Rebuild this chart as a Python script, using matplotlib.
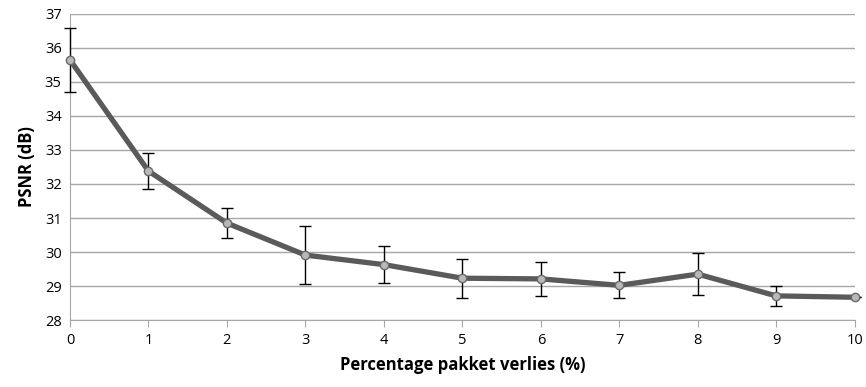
import matplotlib.pyplot as plt

# Data
verlies = [0, 1, 2, 3, 4, 5, 6, 7, 8, 9, 10]
psnr = [35.65, 32.38, 30.85, 29.91, 29.63, 29.23, 29.21, 29.02, 29.35, 28.71, 28.67]
fout = [0.95, 0.52, 0.45, 0.86, 0.55, 0.57, 0.49, 0.38, 0.62, 0.29, 0.0]

plt.rcParams['font.family'] = ['Open Sans', 'DejaVu Sans']

fig = plt.figure(figsize=(8.66, 3.87), dpi=100)
ax = fig.add_axes([0.0808, 0.173, 0.9062, 0.791])

# foutbalken
eb = ax.errorbar(verlies, psnr, yerr=fout, fmt='none', ecolor='black',
                 elinewidth=1.0, capsize=4, capthick=1.0, zorder=2.7)
for art in eb.lines[1] + eb.lines[2]:
    art.set_clip_on(False)
# lijn met markers
ax.plot(verlies, psnr, color='#5a5a5a', linewidth=3.8, zorder=3,
        marker='o', markersize=6, markerfacecolor='#b8b8b8',
        markeredgecolor='#6a6a6a', markeredgewidth=1.0, clip_on=False)

ax.set_xlim(0, 10)
ax.set_ylim(28, 37)
ax.set_xticks(range(0, 11))
ax.set_yticks(range(28, 38))

ax.grid(axis='y', color='#a6a6a6', linewidth=1.0)
ax.set_axisbelow(True)
for s in ['top', 'right']:
    ax.spines[s].set_visible(False)
ax.spines['left'].set_color('#a6a6a6')
ax.spines['bottom'].set_color('#a6a6a6')
ax.tick_params(axis='y', length=0, labelsize=10.5, pad=6)
ax.tick_params(axis='x', length=5, color='#a6a6a6', labelsize=10.5, pad=4)

ax.set_xlabel('Percentage pakket verlies (%)', fontsize=12, fontweight='bold', labelpad=6)
ax.set_ylabel('PSNR (dB)', fontsize=12, fontweight='bold', labelpad=6)

fig.savefig('out.png', dpi=100)
